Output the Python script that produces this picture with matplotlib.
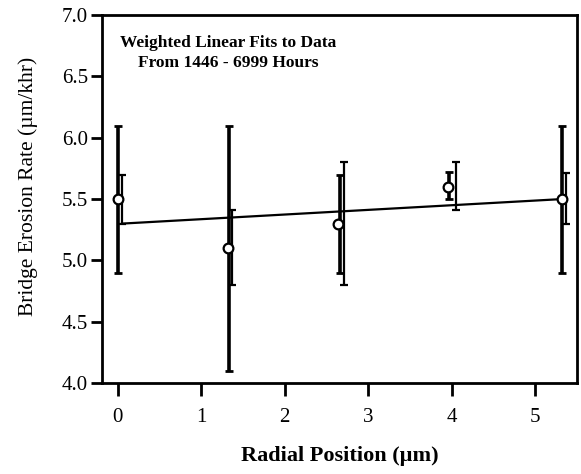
import matplotlib
matplotlib.use("Agg")
import matplotlib.pyplot as plt
import numpy as np

# Data
x_pts = [0.0, 1.32, 2.64, 3.95, 5.32]
y_pts = [5.5, 5.1, 5.3, 5.6, 5.5]

# error bar set A (thick)
xa = [0.0, 1.33, 2.66, 3.97, 5.32]
a_lo = [4.9, 4.1, 4.9, 5.5, 4.9]
a_hi = [6.1, 6.1, 5.7, 5.72, 6.1]

# error bar set B (thin, slightly offset)
xb = [0.05, 1.37, 2.71, 4.05, 5.37]
b_lo = [5.3, 4.8, 4.8, 5.41, 5.3]
b_hi = [5.7, 5.41, 5.8, 5.8, 5.71]

# weighted linear fit
fit_x = [0.05, 5.32]
fit_y = [5.3, 5.5]

x_ticks = [0, 1, 2, 3, 4, 5]
y_ticks = [4.0, 4.5, 5.0, 5.5, 6.0, 6.5, 7.0]

plt.rcParams['font.family'] = ['Liberation Serif', 'DejaVu Serif']

fig = plt.figure(figsize=(5.81, 4.74), dpi=100)
ax = fig.add_axes([0.1756, 0.192, 0.993 - 0.1756, 0.968 - 0.192])

ax.plot(fit_x, fit_y, color='black', lw=1.6, zorder=2)

ya = [(lo + hi) / 2 for lo, hi in zip(a_lo, a_hi)]
ea = [(hi - lo) / 2 for lo, hi in zip(a_lo, a_hi)]
ax.errorbar(xa, ya, yerr=ea, fmt='none', ecolor='black', elinewidth=2.6,
            capsize=3, capthick=2, zorder=3)

yb = [(lo + hi) / 2 for lo, hi in zip(b_lo, b_hi)]
eb = [(hi - lo) / 2 for lo, hi in zip(b_lo, b_hi)]
ax.errorbar(xb, yb, yerr=eb, fmt='none', ecolor='black', elinewidth=1.6,
            capsize=3, capthick=1.6, zorder=3)

ax.plot(x_pts, y_pts, 'o', ms=7, mfc='white', mec='black', mew=1.6, zorder=5)

ax.set_xlim(-0.19, 5.5)
ax.set_ylim(4.0, 7.0)
ax.set_xticks(x_ticks)
ax.set_yticks(y_ticks)
ax.set_xticklabels([str(t) for t in x_ticks])
ax.set_yticklabels([f"{t:.1f}" for t in y_ticks])

for s in ax.spines.values():
    s.set_linewidth(2.0)
ax.tick_params(axis='y', direction='out', length=8, width=2, labelsize=15, pad=2)
ax.tick_params(axis='x', direction='out', length=9, width=2, labelsize=15, pad=9)

ax.set_xlabel('Radial Position (\u00b5m)', fontsize=16, fontweight='bold', labelpad=14)
ax.set_ylabel('Bridge Erosion Rate (\u00b5m/khr)', fontsize=15.5, labelpad=17, y=0.535)

ax.text(0.265, 0.945, 'Weighted Linear Fits to Data\nFrom 1446 - 6999 Hours',
        transform=ax.transAxes, ha='center', va='top', fontsize=12.5,
        fontweight='bold', linespacing=1.3)

fig.savefig('out.png', dpi=100)
